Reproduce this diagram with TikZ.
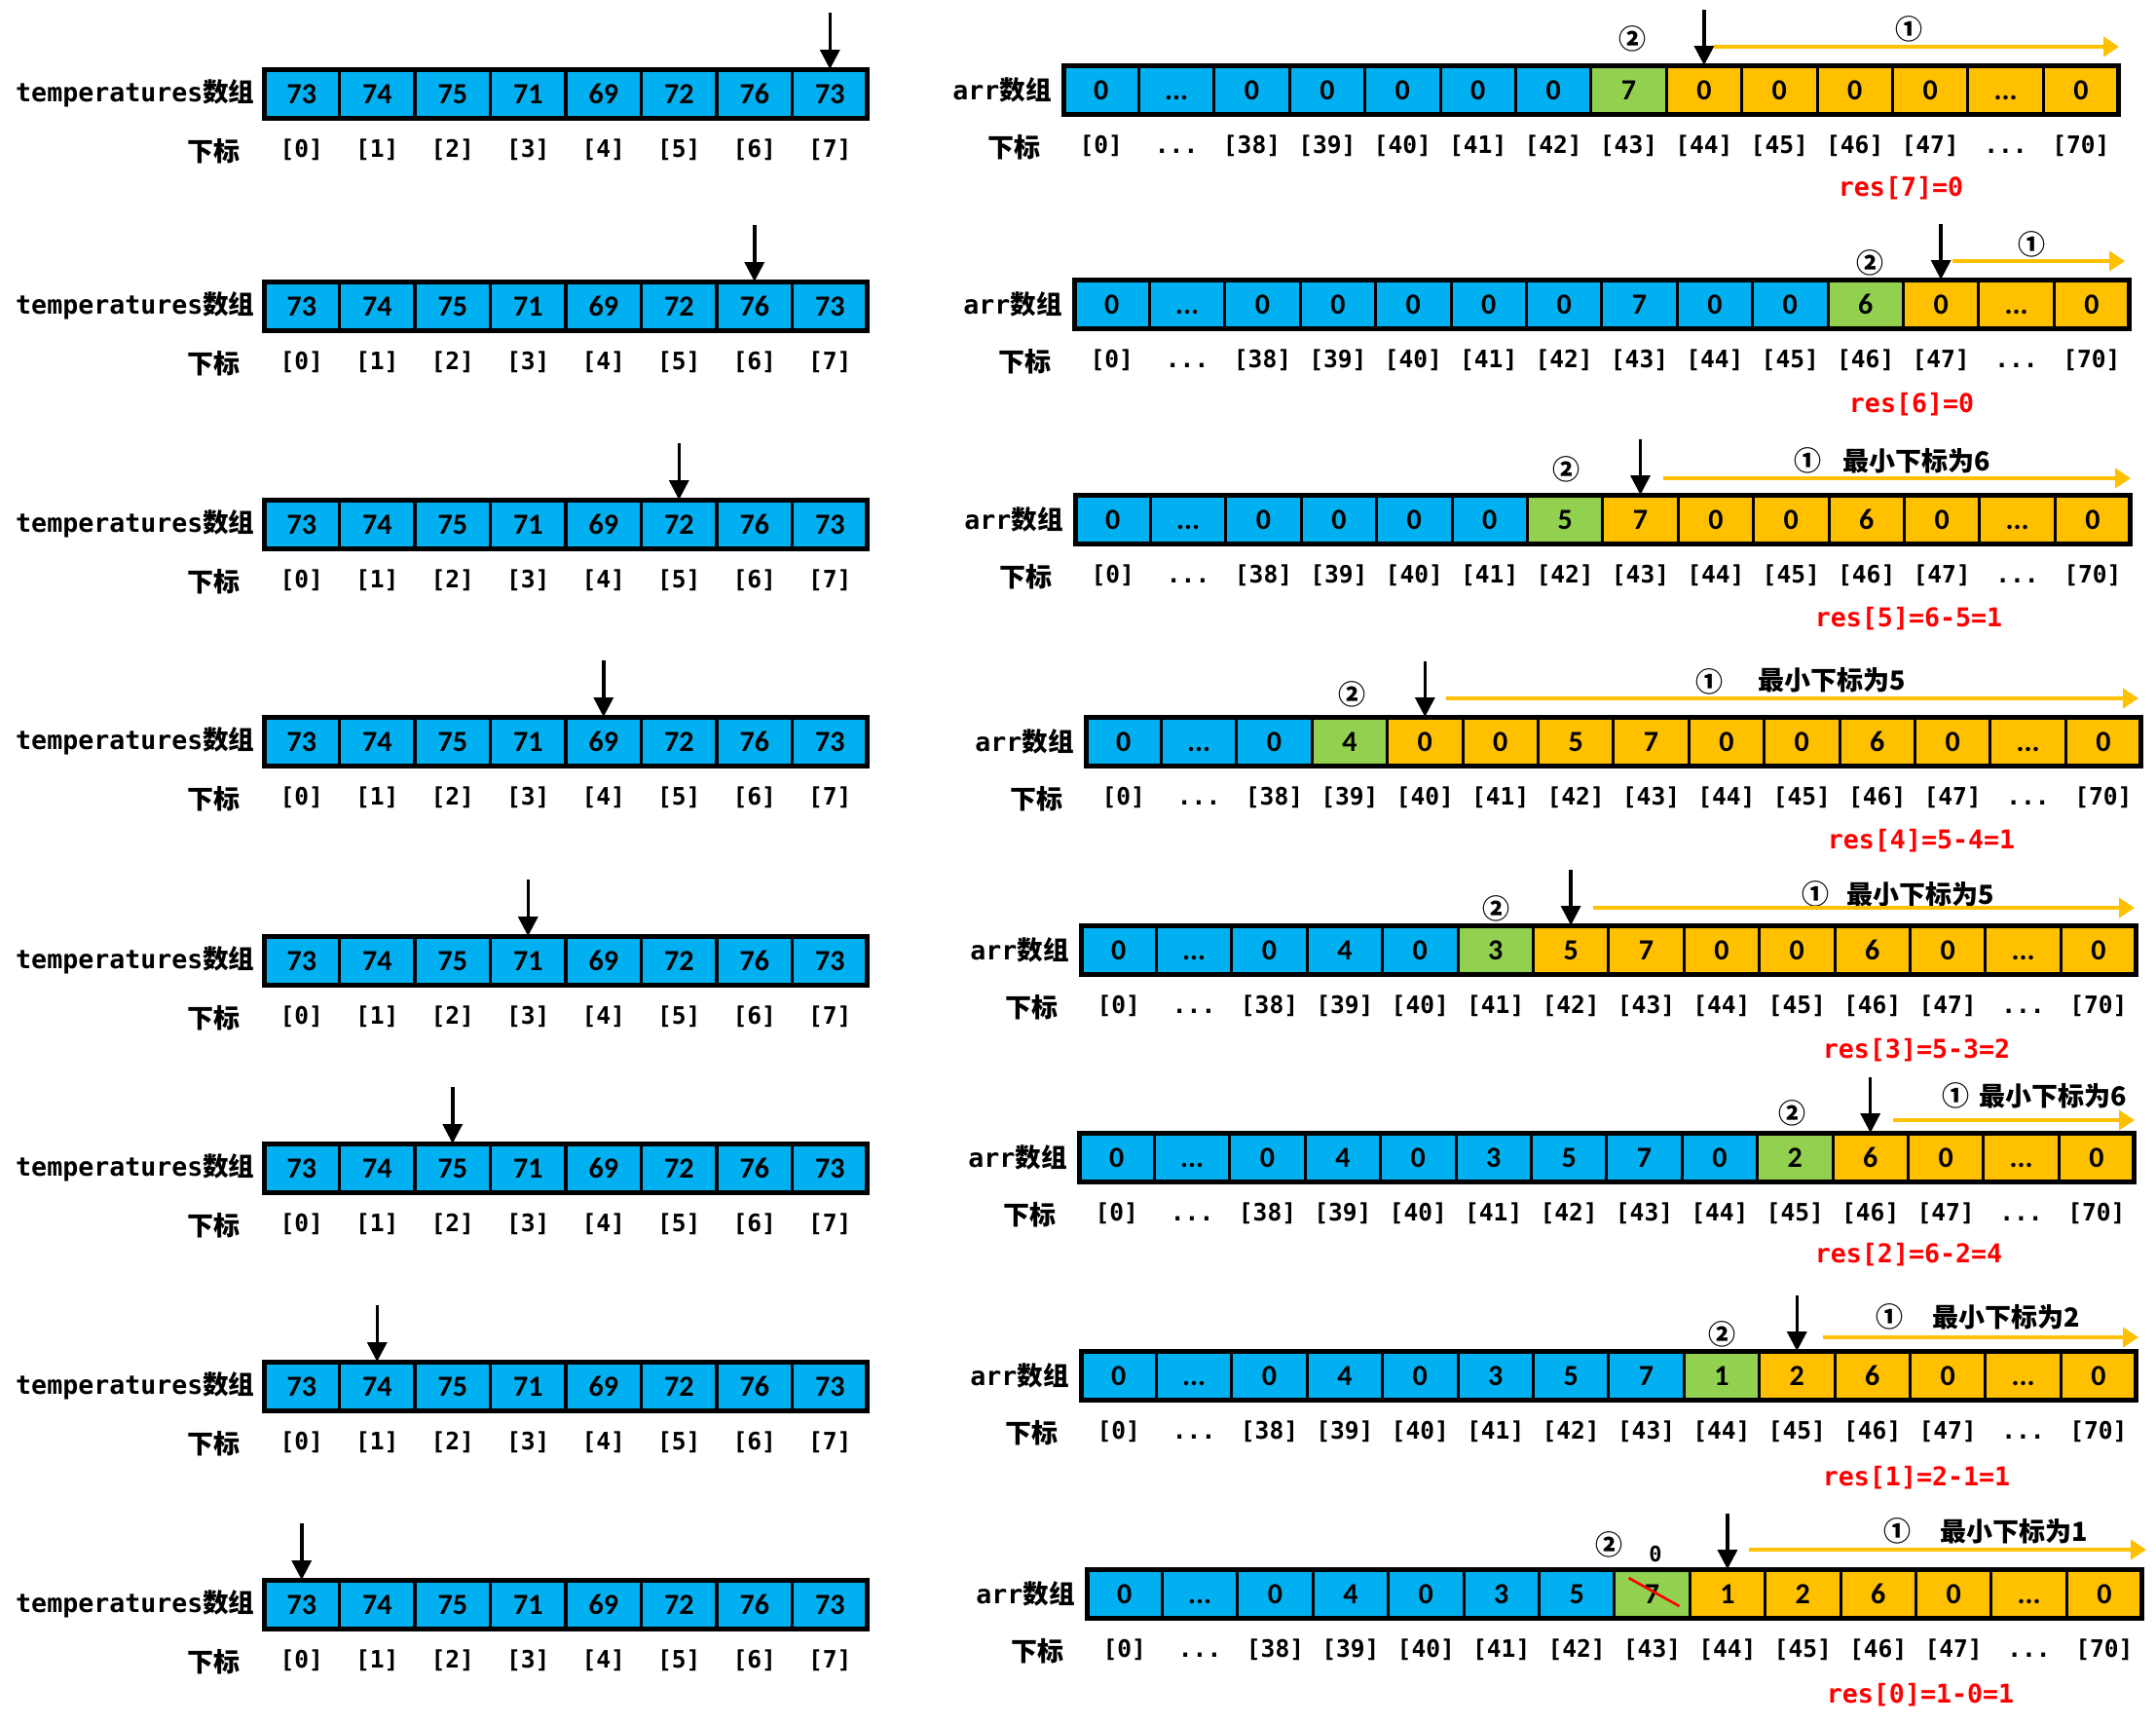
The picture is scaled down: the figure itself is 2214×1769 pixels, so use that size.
\documentclass[tikz,border=0pt]{standalone}
\usepackage{fontspec}
\setmainfont{DejaVu Sans}
\newfontfamily\monof{DejaVu Sans Mono}
\newfontfamily\cjkf{Noto Sans CJK SC}
\newfontfamily\cellf{Carlito}
\usetikzlibrary{arrows.meta,calc}
\definecolor{cblue}{HTML}{00B0F0}
\definecolor{cgreen}{HTML}{92D050}
\definecolor{corange}{HTML}{FFC000}
\definecolor{cred}{HTML}{FF0000}
\newcommand\ddd{...}

\tikzset{
 cell/.style={draw=black, line width=1.5pt, minimum width=38.7pt, minimum height=25pt, inner sep=0pt, outer sep=0pt, text height=10pt, text depth=0pt, font=\cellf\bfseries\fontsize{15pt}{15pt}\selectfont},
 frame/.style={draw=black, line width=2.5pt},
 idx/.style={inner sep=0pt, text height=9pt, text depth=2.2pt, font=\monof\bfseries\fontsize{12.3pt}{12pt}\selectfont},
 cjklbl/.style={inner sep=0pt, font=\cjkf\bfseries\fontsize{13.5pt}{14pt}\selectfont},
 title/.style={inner sep=0pt, font=\monof\bfseries\fontsize{13.3pt}{14pt}\selectfont},
 circnum/.style={inner sep=0pt, font=\cjkf\bfseries\fontsize{14pt}{14pt}\selectfont},
 note/.style={inner sep=0pt, font=\cjkf\bfseries\fontsize{13.5pt}{14pt}\selectfont},
 restxt/.style={inner sep=0pt, text=cred, font=\monof\bfseries\fontsize{13.3pt}{13pt}\selectfont},
 smallzero/.style={inner sep=0pt, font=\monof\bfseries\fontsize{11pt}{11pt}\selectfont},
 blackarr/.style={draw=black, line width=1.75pt, -{Triangle[length=10pt,width=10pt]}},
 orangearr/.style={draw=corange, line width=2.2pt, -{Triangle[length=8pt,width=10pt]}},
 strike/.style={draw=cred, line width=1.3pt},
}

\newcommand\leftrow[3]{%
 \node[title, anchor=east] (L#1t) at (262,#2) {temperatures{\cjkf 数组}};
 \node[cjklbl] (L#1x) at (219,#2+59) {下标};
 \foreach \v [count=\i from 0] in {73,74,75,71,69,72,76,73} {
   \pgfmathsetmacro\cx{271+77.5*(\i+0.5)}
   \node[cell, fill=cblue] (L#1c\i) at (\cx,#2) {\v};
   \node[idx] (L#1i\i) at (\cx,#2+59) {[\i]};
 }
 \draw[frame] (L#1c0.north west) rectangle (L#1c7.south east);
 \coordinate (L#1a) at ($(L#1c#3.north)+(0,-58)$);
 \draw[blackarr] (L#1a) -- (L#1c#3.north);
}

\newcommand\rightrow[5]{%
 \node[title, anchor=east] (R#1t) at (#2-12,#3) {arr{\cjkf 数组}};
 \node[cjklbl] (R#1x) at (#2-51,#3+59) {下标};
 \foreach \v [count=\i from 0] in {#5} {
   \pgfmathsetmacro\cx{#2+77.4*(\i+0.5)}
   \ifnum\i<#4\relax \def\cc{cblue}\else\ifnum\i=#4\relax \def\cc{cgreen}\else \def\cc{corange}\fi\fi
   \node[cell, fill=\cc] (R#1c\i) at (\cx,#3) {\v};
 }
 \foreach \n [count=\i from 0] in {0,-1,38,39,40,41,42,43,44,45,46,47,-1,70} {
   \pgfmathsetmacro\cx{#2+77.4*(\i+0.5)}
   \node[idx] (R#1i\i) at (\cx,#3+59) {\ifnum\n<0 ...\else[\n]\fi};
 }
 \draw[frame] (R#1c0.north west) rectangle (R#1c13.south east);
 \pgfmathtruncatemacro\tipi{#4+1}
 \coordinate (R#1a) at ($(R#1c\tipi.north)+(0,-57)$);
 \draw[blackarr] (R#1a) -- (R#1c\tipi.north);
}

\begin{document}
\begin{tikzpicture}[x=0.5pt,y=-0.5pt]
\fill[white] (0,0) rectangle (2214,1769);
\useasboundingbox (0,0) rectangle (2214,1769);

% left column
\leftrow{1}{96}{7}
\leftrow{2}{314}{6}
\leftrow{3}{538}{5}
\leftrow{4}{761}{4}
\leftrow{5}{986}{3}
\leftrow{6}{1199}{2}
\leftrow{7}{1423}{1}
\leftrow{8}{1647}{0}

% right column
\rightrow{1}{1092}{92}{7}{0,\ddd,0,0,0,0,0,7,0,0,0,0,\ddd,0}
\rightrow{2}{1103}{312}{10}{0,\ddd,0,0,0,0,0,7,0,0,6,0,\ddd,0}
\rightrow{3}{1104}{533}{6}{0,\ddd,0,0,0,0,5,7,0,0,6,0,\ddd,0}
\rightrow{4}{1115}{761}{3}{0,\ddd,0,4,0,0,5,7,0,0,6,0,\ddd,0}
\rightrow{5}{1110}{975}{5}{0,\ddd,0,4,0,3,5,7,0,0,6,0,\ddd,0}
\rightrow{6}{1108}{1188}{9}{0,\ddd,0,4,0,3,5,7,0,2,6,0,\ddd,0}
\rightrow{7}{1110}{1412}{8}{0,\ddd,0,4,0,3,5,7,1,2,6,0,\ddd,0}
\rightrow{8}{1116}{1636}{7}{0,\ddd,0,4,0,3,5,7,1,2,6,0,\ddd,0}

% row 1 annotations
\node[circnum] (R1n2) at (1676,40) {②};
\node[circnum] (R1n1) at (1960,30) {①};
\coordinate (R1os) at (1760,48); \coordinate (R1oe) at (2176,48);
\draw[orangearr] (R1os) -- (R1oe);
\node[restxt] (R1res) at (1952,193) {res[7]=0};

% row 2
\node[circnum] (R2n2) at (1920,270) {②};
\node[circnum] (R2n1) at (2086,251) {①};
\coordinate (R2os) at (2005,268); \coordinate (R2oe) at (2182,268);
\draw[orangearr] (R2os) -- (R2oe);
\node[restxt] (R2res) at (1963,415) {res[6]=0};

% row 3
\node[circnum] (R3n2) at (1608,482) {②};
\node[circnum] (R3n1) at (1856,473) {①};
\node[note] (R3note) at (1968,473) {最小下标为6};
\coordinate (R3os) at (1708,491); \coordinate (R3oe) at (2188,491);
\draw[orangearr] (R3os) -- (R3oe);
\node[restxt] (R3res) at (1960,635) {res[5]=6-5=1};

% row 4
\node[circnum] (R4n2) at (1388,713) {②};
\node[circnum] (R4n1) at (1755,700) {①};
\node[note] (R4note) at (1881,698) {最小下标为5};
\coordinate (R4os) at (1485,717); \coordinate (R4oe) at (2196,717);
\draw[orangearr] (R4os) -- (R4oe);
\node[restxt] (R4res) at (1973,863) {res[4]=5-4=1};

% row 5
\node[circnum] (R5n2) at (1536,933) {②};
\node[circnum] (R5n1) at (1864,918) {①};
\node[note] (R5note) at (1972,918) {最小下标为5};
\coordinate (R5os) at (1636,932); \coordinate (R5oe) at (2192,932);
\draw[orangearr] (R5os) -- (R5oe);
\node[restxt] (R5res) at (1968,1078) {res[3]=5-3=2};

% row 6
\node[circnum] (R6n2) at (1840,1143) {②};
\node[circnum] (R6n1) at (2008,1125) {①};
\node[note] (R6note) at (2108,1125) {最小下标为6};
\coordinate (R6os) at (1944,1150); \coordinate (R6oe) at (2192,1150);
\draw[orangearr] (R6os) -- (R6oe);
\node[restxt] (R6res) at (1960,1288) {res[2]=6-2=4};

% row 7
\node[circnum] (R7n2) at (1768,1370) {②};
\node[circnum] (R7n1) at (1940,1352) {①};
\node[note] (R7note) at (2060,1352) {最小下标为2};
\coordinate (R7os) at (1872,1373); \coordinate (R7oe) at (2196,1373);
\draw[orangearr] (R7os) -- (R7oe);
\node[restxt] (R7res) at (1968,1517) {res[1]=2-1=1};

% row 8
\node[circnum] (R8n2) at (1652,1586) {②};
\node[smallzero] (R8zero) at (1700,1595) {0};
\node[circnum] (R8n1) at (1948,1572) {①};
\node[note] (R8note) at (2068,1572) {最小下标为1};
\coordinate (R8os) at (1796,1591); \coordinate (R8oe) at (2204,1591);
\draw[orangearr] (R8os) -- (R8oe);
\coordinate (R8sa) at ($(R8c7.center)+(-24,-16)$);
\coordinate (R8sb) at ($(R8c7.center)+(28,13)$);
\draw[strike] (R8sa) -- (R8sb);
\node[restxt] (R8res) at (1972,1740) {res[0]=1-0=1};
\end{tikzpicture}
\end{document}
